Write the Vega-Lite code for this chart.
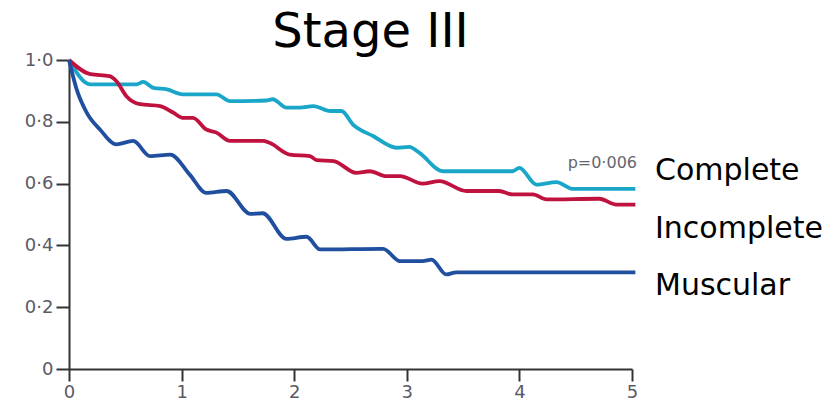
{
  "$schema": "https://vega.github.io/schema/vega-lite/v6.json",
  "width": 563,
  "height": 309,
  "autosize": {"type": "none"},
  "padding": {"left": 69, "top": 60, "right": 206, "bottom": 35},
  "background": "white",
  "config": {"view": {"stroke": null}, "font": "DejaVu Sans"},
  "title": {
    "text": "Stage III",
    "font": "DejaVu Sans",
    "fontSize": 48,
    "fontWeight": "normal",
    "color": "#000000",
    "anchor": "middle",
    "frame": "group",
    "baseline": "alphabetic",
    "dx": 20,
    "offset": -44
  },
  "datasets": {
    "curves": [
      {"group": "Complete", "t": 0, "v": 1.0},
      {"group": "Complete", "t": 0.19, "v": 0.921},
      {"group": "Complete", "t": 0.6, "v": 0.921},
      {"group": "Complete", "t": 0.66, "v": 0.929},
      {"group": "Complete", "t": 0.75, "v": 0.91},
      {"group": "Complete", "t": 0.87, "v": 0.905},
      {"group": "Complete", "t": 1.01, "v": 0.889},
      {"group": "Complete", "t": 1.31, "v": 0.889},
      {"group": "Complete", "t": 1.43, "v": 0.867},
      {"group": "Complete", "t": 1.75, "v": 0.869},
      {"group": "Complete", "t": 1.81, "v": 0.873},
      {"group": "Complete", "t": 1.93, "v": 0.846},
      {"group": "Complete", "t": 2.05, "v": 0.846},
      {"group": "Complete", "t": 2.17, "v": 0.851},
      {"group": "Complete", "t": 2.32, "v": 0.835},
      {"group": "Complete", "t": 2.42, "v": 0.835},
      {"group": "Complete", "t": 2.52, "v": 0.792},
      {"group": "Complete", "t": 2.7, "v": 0.754},
      {"group": "Complete", "t": 2.91, "v": 0.716},
      {"group": "Complete", "t": 3.02, "v": 0.719},
      {"group": "Complete", "t": 3.11, "v": 0.7},
      {"group": "Complete", "t": 3.32, "v": 0.64},
      {"group": "Complete", "t": 3.94, "v": 0.64},
      {"group": "Complete", "t": 4.0, "v": 0.651},
      {"group": "Complete", "t": 4.15, "v": 0.597},
      {"group": "Complete", "t": 4.33, "v": 0.605},
      {"group": "Complete", "t": 4.47, "v": 0.583},
      {"group": "Complete", "t": 5.03, "v": 0.583},
      {"group": "Incomplete", "t": 0, "v": 1.0},
      {"group": "Incomplete", "t": 0.19, "v": 0.954},
      {"group": "Incomplete", "t": 0.36, "v": 0.948},
      {"group": "Incomplete", "t": 0.42, "v": 0.932},
      {"group": "Incomplete", "t": 0.51, "v": 0.883},
      {"group": "Incomplete", "t": 0.63, "v": 0.857},
      {"group": "Incomplete", "t": 0.81, "v": 0.851},
      {"group": "Incomplete", "t": 0.925, "v": 0.83},
      {"group": "Incomplete", "t": 1.01, "v": 0.813},
      {"group": "Incomplete", "t": 1.1, "v": 0.813},
      {"group": "Incomplete", "t": 1.22, "v": 0.775},
      {"group": "Incomplete", "t": 1.31, "v": 0.765},
      {"group": "Incomplete", "t": 1.43, "v": 0.738},
      {"group": "Incomplete", "t": 1.72, "v": 0.738},
      {"group": "Incomplete", "t": 1.78, "v": 0.732},
      {"group": "Incomplete", "t": 1.96, "v": 0.694},
      {"group": "Incomplete", "t": 2.14, "v": 0.689},
      {"group": "Incomplete", "t": 2.2, "v": 0.676},
      {"group": "Incomplete", "t": 2.35, "v": 0.673},
      {"group": "Incomplete", "t": 2.55, "v": 0.635},
      {"group": "Incomplete", "t": 2.67, "v": 0.64},
      {"group": "Incomplete", "t": 2.82, "v": 0.624},
      {"group": "Incomplete", "t": 2.94, "v": 0.624},
      {"group": "Incomplete", "t": 3.14, "v": 0.6},
      {"group": "Incomplete", "t": 3.29, "v": 0.608},
      {"group": "Incomplete", "t": 3.53, "v": 0.576},
      {"group": "Incomplete", "t": 3.82, "v": 0.576},
      {"group": "Incomplete", "t": 3.94, "v": 0.565},
      {"group": "Incomplete", "t": 4.12, "v": 0.565},
      {"group": "Incomplete", "t": 4.24, "v": 0.549},
      {"group": "Incomplete", "t": 4.71, "v": 0.551},
      {"group": "Incomplete", "t": 4.86, "v": 0.532},
      {"group": "Incomplete", "t": 5.03, "v": 0.532},
      {"group": "Muscular", "t": 0, "v": 1.0},
      {"group": "Muscular", "t": 0.068, "v": 0.905},
      {"group": "Muscular", "t": 0.157, "v": 0.83},
      {"group": "Muscular", "t": 0.275, "v": 0.775},
      {"group": "Muscular", "t": 0.42, "v": 0.727},
      {"group": "Muscular", "t": 0.57, "v": 0.738},
      {"group": "Muscular", "t": 0.72, "v": 0.689},
      {"group": "Muscular", "t": 0.9, "v": 0.694},
      {"group": "Muscular", "t": 1.07, "v": 0.63},
      {"group": "Muscular", "t": 1.22, "v": 0.57},
      {"group": "Muscular", "t": 1.4, "v": 0.576},
      {"group": "Muscular", "t": 1.61, "v": 0.502},
      {"group": "Muscular", "t": 1.72, "v": 0.504},
      {"group": "Muscular", "t": 1.93, "v": 0.421},
      {"group": "Muscular", "t": 2.11, "v": 0.428},
      {"group": "Muscular", "t": 2.23, "v": 0.387},
      {"group": "Muscular", "t": 2.79, "v": 0.389},
      {"group": "Muscular", "t": 2.94, "v": 0.349},
      {"group": "Muscular", "t": 3.14, "v": 0.349},
      {"group": "Muscular", "t": 3.22, "v": 0.354},
      {"group": "Muscular", "t": 3.35, "v": 0.306},
      {"group": "Muscular", "t": 3.44, "v": 0.313},
      {"group": "Muscular", "t": 5.03, "v": 0.313}
    ],
    "names": [
      {"group": "Complete", "t": 5, "v": 0.64},
      {"group": "Incomplete", "t": 5, "v": 0.452},
      {"group": "Muscular", "t": 5, "v": 0.267}
    ],
    "pvalue": [
      {"t": 5, "v": 0.666, "text": "p=0·006"}
    ]
  },
  "layer": [
    {
      "data": {"name": "curves"},
      "mark": {"type": "line", "strokeWidth": 3.8, "interpolate": "monotone", "strokeJoin": "round"},
      "encoding": {
        "x": {
          "field": "t",
          "type": "quantitative",
          "scale": {"domain": [0, 5], "nice": false, "zero": false},
          "axis": {
            "title": null,
            "values": [0, 1, 2, 3, 4, 5],
            "format": "d",
            "grid": false,
            "domainColor": "#333333",
            "domainWidth": 2,
            "tickColor": "#333333",
            "tickWidth": 2,
            "tickSize": 12,
            "labelFont": "DejaVu Sans",
            "labelFontSize": 18,
            "labelColor": "#5a5a66",
            "labelPadding": 2,
            "labelFlush": false
          }
        },
        "y": {
          "field": "v",
          "type": "quantitative",
          "scale": {"domain": [0, 1], "nice": false},
          "axis": {
            "title": null,
            "values": [0, 0.2, 0.4, 0.6, 0.8, 1.0],
            "labelExpr": "datum.value == 0 ? '0' : replace(format(datum.value, '.1f'), '.', '·')",
            "grid": false,
            "domainColor": "#333333",
            "domainWidth": 2,
            "tickColor": "#333333",
            "tickWidth": 2,
            "tickSize": 13,
            "labelFont": "DejaVu Sans",
            "labelFontSize": 18,
            "labelColor": "#5a5a66",
            "labelPadding": 3,
            "labelFlush": false
          }
        },
        "color": {
          "field": "group",
          "type": "nominal",
          "scale": {"domain": ["Complete", "Incomplete", "Muscular"], "range": ["#1aa6c8", "#c0123f", "#1f4f9e"]},
          "legend": null
        },
        "detail": {"field": "group"}
      }
    },
    {
      "data": {"name": "names"},
      "mark": {"type": "text", "align": "left", "baseline": "middle", "dx": 23, "font": "DejaVu Sans", "fontSize": 30, "color": "#000000"},
      "encoding": {
        "x": {"field": "t", "type": "quantitative"},
        "y": {"field": "v", "type": "quantitative"},
        "text": {"field": "group"}
      }
    },
    {
      "data": {"name": "pvalue"},
      "mark": {"type": "text", "align": "right", "baseline": "middle", "dx": 5, "font": "DejaVu Sans", "fontSize": 16, "color": "#666670"},
      "encoding": {
        "x": {"field": "t", "type": "quantitative"},
        "y": {"field": "v", "type": "quantitative"},
        "text": {"field": "text"}
      }
    }
  ]
}
